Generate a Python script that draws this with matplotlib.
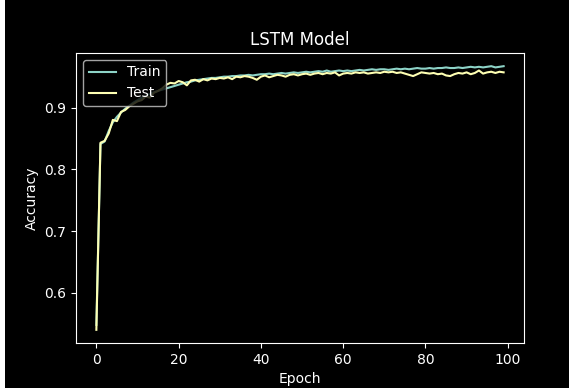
from matplotlib import pyplot as plt
from matplotlib.patches import Rectangle

# accuracy per epoch
train_acc = [0.548, 0.841, 0.845, 0.862, 0.876, 0.885, 0.892, 0.898, 0.903, 0.908,
             0.912, 0.916, 0.919, 0.922, 0.925, 0.927, 0.929, 0.931, 0.933, 0.935,
             0.937, 0.939, 0.941, 0.942, 0.944, 0.945, 0.946, 0.947, 0.948, 0.948,
             0.949, 0.950, 0.950, 0.951, 0.951, 0.952, 0.952, 0.953, 0.952, 0.953,
             0.954, 0.954, 0.955, 0.954, 0.955, 0.956, 0.955, 0.956, 0.957, 0.956,
             0.957, 0.958, 0.957, 0.958, 0.959, 0.958, 0.960, 0.958, 0.959, 0.960,
             0.959, 0.960, 0.959, 0.960, 0.961, 0.960, 0.961, 0.962, 0.961, 0.962,
             0.962, 0.961, 0.962, 0.963, 0.962, 0.963, 0.962, 0.963, 0.964, 0.963,
             0.963, 0.964, 0.963, 0.964, 0.964, 0.965, 0.964, 0.964, 0.965, 0.964,
             0.965, 0.966, 0.965, 0.966, 0.965, 0.966, 0.967, 0.965, 0.966, 0.967]

test_acc = [0.540, 0.843, 0.846, 0.858, 0.880, 0.878, 0.893, 0.896, 0.902, 0.906,
            0.910, 0.912, 0.918, 0.916, 0.924, 0.927, 0.931, 0.937, 0.940, 0.939,
            0.943, 0.941, 0.936, 0.944, 0.945, 0.942, 0.946, 0.944, 0.947, 0.946,
            0.948, 0.947, 0.949, 0.946, 0.950, 0.949, 0.951, 0.950, 0.948, 0.945,
            0.950, 0.952, 0.949, 0.951, 0.953, 0.952, 0.950, 0.953, 0.954, 0.952,
            0.954, 0.955, 0.953, 0.955, 0.956, 0.954, 0.956, 0.955, 0.957, 0.952,
            0.955, 0.956, 0.955, 0.957, 0.956, 0.957, 0.955, 0.956, 0.957, 0.956,
            0.958, 0.957, 0.958, 0.956, 0.957, 0.955, 0.953, 0.951, 0.954, 0.957,
            0.956, 0.955, 0.956, 0.954, 0.955, 0.952, 0.951, 0.954, 0.956, 0.955,
            0.957, 0.954, 0.956, 0.960, 0.955, 0.957, 0.958, 0.956, 0.958, 0.957]

epochs = list(range(len(train_acc)))

plt.style.use('dark_background')

fig = plt.figure(figsize=(5.69, 3.88), dpi=100)
ax = fig.add_axes([76 / 569, 45 / 388, 448 / 569, 290 / 388])

# Plot both curves
ax.plot(epochs, train_acc, label='Train')
ax.plot(epochs, test_acc, label='Test')

ax.set_title('LSTM Model')
ax.set_ylabel('Accuracy')
ax.set_xlabel('Epoch')
ax.legend(loc='upper left')

# thin white strip at the left edge of the screenshot
fig.patches.append(Rectangle((0, 0), 5 / 569, 1, transform=fig.transFigure,
                             facecolor='white', edgecolor='none'))

fig.savefig('out.png', dpi=100)
